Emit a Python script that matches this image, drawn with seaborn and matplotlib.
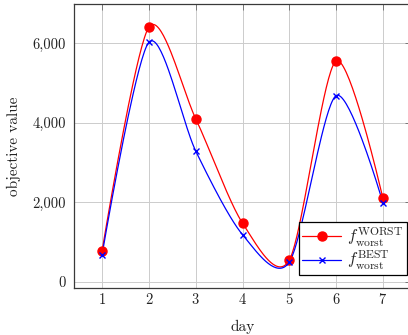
import numpy as np
import pandas as pd
import matplotlib
matplotlib.use("Agg")
import matplotlib.pyplot as plt
from matplotlib.lines import Line2D
from matplotlib.ticker import FuncFormatter
import seaborn as sns

days = [1, 2, 3, 4, 5, 6, 7]
worst_worst = [780, 6400, 4100, 1480, 550, 5550, 2100]
best_worst = [690, 6020, 3290, 1190, 500, 4680, 1990]
x_ticks = [1, 2, 3, 4, 5, 6, 7]
y_ticks = [0, 2000, 4000, 6000]

sns.set_theme(style="whitegrid")
plt.rcParams["font.family"] = ["serif"]
plt.rcParams["font.serif"] = ["cmr10", "DejaVu Serif"]
plt.rcParams["mathtext.fontset"] = "cm"
plt.rcParams["axes.formatter.use_mathtext"] = True


def smooth(xs, ys, factor=0.14, n=40):
    """pgfplots-style smooth path (cubic Bezier through the points)."""
    xs = np.asarray(xs, float)
    ys = np.asarray(ys, float)
    k = len(xs)
    cx_out, cy_out = [], []
    for i in range(k - 1):
        p0 = np.array([xs[i], ys[i]])
        p3 = np.array([xs[i + 1], ys[i + 1]])
        if i == 0:
            c1 = p0
        else:
            c1 = p0 + factor * (p3 - np.array([xs[i - 1], ys[i - 1]]))
        if i + 1 == k - 1:
            c2 = p3
        else:
            c2 = p3 - factor * (np.array([xs[i + 2], ys[i + 2]]) - p0)
        t = np.linspace(0, 1, n, endpoint=(i == k - 2))[:, None]
        pts = ((1 - t) ** 3) * p0 + 3 * ((1 - t) ** 2) * t * c1 + 3 * (1 - t) * t ** 2 * c2 + t ** 3 * p3
        cx_out.extend(pts[:, 0])
        cy_out.extend(pts[:, 1])
    return np.array(cx_out), np.array(cy_out)


W, H = 408, 335
fig = plt.figure(figsize=(W / 100, H / 100), dpi=100)
ax = fig.add_axes([74 / W, 1 - 288 / H, (411 - 74) / W, (288 - 4) / H])

sx, sy = smooth(days, worst_worst)
bx, by = smooth(days, best_worst)
df_w = pd.DataFrame({"x": sx, "y": sy})
df_b = pd.DataFrame({"x": bx, "y": by})

sns.lineplot(data=df_w, x="x", y="y", sort=False, color="red", lw=0.9, ax=ax, estimator=None)
sns.lineplot(data=df_b, x="x", y="y", sort=False, color="blue", lw=0.9, ax=ax, estimator=None)
ax.plot(days, worst_worst, "o", color="red", ms=6.5, ls="none", zorder=5)
ax.plot(days, best_worst, "x", color="blue", ms=4.5, mew=1.0, ls="none", zorder=6)

ax.set_xlim(0.4, 7.6)
ax.set_ylim(-150, 6980)
ax.set_xticks(x_ticks)
ax.set_yticks(y_ticks)
ax.yaxis.set_major_formatter(FuncFormatter(lambda v, p: f"{int(v):,}"))
ax.grid(True, color="#cccccc", lw=0.7)
ax.set_facecolor("white")
for s in ax.spines.values():
    s.set_color("#3a3a3a")
    s.set_linewidth(0.9)
ax.tick_params(direction="in", length=4, width=0.7, color="#777777",
               top=True, right=True, labelsize=10.5, labelcolor="#222222")
ax.tick_params(axis="x", pad=3)
ax.tick_params(axis="y", pad=6)
ax.set_xlabel("day", fontsize=11, labelpad=9, color="#222222")
ax.set_ylabel("objective value", fontsize=11, labelpad=8, color="#222222")

handles = [
    Line2D([], [], color="red", lw=0.9, marker="o", ms=6.5),
    Line2D([], [], color="blue", lw=0.9, marker="x", ms=4.5, mew=1.0),
]
labels = [r"$f^{\mathrm{WORST}}_{\mathrm{worst}}$", r"$f^{\mathrm{BEST}}_{\mathrm{worst}}$"]
leg = ax.legend(handles, labels, loc="lower right", bbox_to_anchor=(0.988, 0.046),
                borderaxespad=0, fontsize=12, frameon=True, fancybox=False,
                handlelength=2.3, handletextpad=0.4, borderpad=0.2, labelspacing=0.0)
leg.get_frame().set_edgecolor("black")
leg.get_frame().set_linewidth(0.9)
leg.get_frame().set_alpha(1)

fig.savefig("out.png", dpi=100)
